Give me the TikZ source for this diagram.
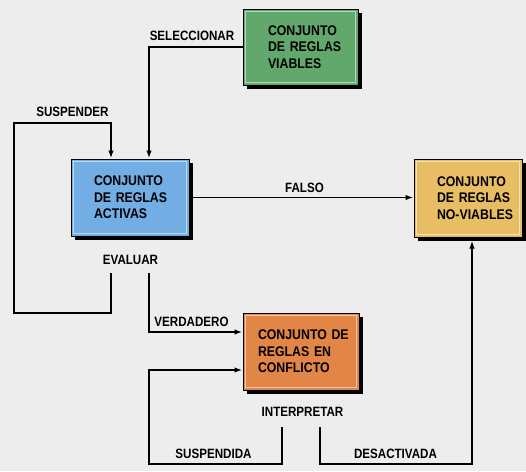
\documentclass[tikz,border=0pt]{standalone}
\usepackage{fontspec}
\setmainfont{Liberation Sans}
\newfontfamily\boxfont{Liberation Sans}[FakeStretch=0.88]
\newfontfamily\labelfont{Liberation Sans}[FakeStretch=0.86]
\usetikzlibrary{shadows,arrows.meta}
\definecolor{paper}{HTML}{EDEDED}
\definecolor{viable}{HTML}{62A86C}
\definecolor{activa}{HTML}{72ADE4}
\definecolor{noviable}{HTML}{E8BE64}
\definecolor{conflicto}{HTML}{E28648}
\tikzset{
  rulebox/.style={draw=black, line width=1pt, fill=#1, align=left, inner ysep=0pt,
    font=\boxfont\bfseries\fontsize{14}{16.5}\selectfont,
    general shadow={fill=black, shadow xshift=3.5pt, shadow yshift=-3.5pt},
    path picture={\draw[#1!45!white, line width=1pt]
      ([shift={(2.5pt,-2.5pt)}]path picture bounding box.north west) rectangle
      ([shift={(-2.5pt,2.5pt)}]path picture bounding box.south east);}},
  lbl/.style={font=\labelfont\bfseries\fontsize{13.5}{14}\selectfont, inner sep=0pt},
  flow/.style={line width=1.6pt, -{Latex[length=8pt,width=5.5pt]}}
}
\begin{document}
\begin{tikzpicture}[x=1pt,y=-1pt]
\useasboundingbox (0,0) rectangle (526,471);
\fill[paper] (0,0) rectangle (526,471);

% rule sets
\node[rulebox=viable, minimum width=115pt, minimum height=76pt, text width=65pt, inner xsep=25pt]
  (viables) at (300.5,47) {\mbox{CONJUNTO}\\\mbox{DE REGLAS}\\\mbox{VIABLES}};
\node[rulebox=activa, minimum width=118pt, minimum height=77pt, text width=72pt, inner xsep=23pt]
  (activas) at (130,197.5) {\mbox{CONJUNTO}\\\mbox{DE REGLAS}\\\mbox{ACTIVAS}};
\node[rulebox=noviable, minimum width=108pt, minimum height=78pt, text width=62pt, inner xsep=23pt]
  (noviables) at (468,198) {\mbox{CONJUNTO}\\\mbox{DE REGLAS}\\\mbox{NO-VIABLES}};
\node[rulebox=conflicto, minimum width=116pt, minimum height=77pt, text width=86pt, inner xsep=15pt]
  (conflicto) at (301,351.5) {\mbox{CONJUNTO DE}\\\mbox{REGLAS EN}\\\mbox{CONFLICTO}};

% labels
\node[lbl] (lsel) at (192,36) {SELECCIONAR};
\node[lbl] (lsus) at (72.5,111.5) {SUSPENDER};
\node[lbl] (lfal) at (304.5,188) {FALSO};
\node[lbl] (leva) at (130.5,260) {EVALUAR};
\node[lbl] (lver) at (191.5,321.5) {VERDADERO};
\node[lbl] (lint) at (302.5,412) {INTERPRETAR};
\node[lbl] (lsdd) at (213.5,453.5) {SUSPENDIDA};
\node[lbl] (ldes) at (395.5,453.5) {DESACTIVADA};

% free ends below the evaluation and interpretation labels
\coordinate (evA) at (111,273);
\coordinate (evB) at (149,273);
\coordinate (inA) at (282,427);
\coordinate (inB) at (320,427);

% connectors
\draw[flow] (viables.west) -| ([xshift=19pt]activas.north);
\draw[flow] (evA) |- (14,313) |- (111,123) -- ([xshift=-19pt]activas.north);
\draw[flow] (activas.east) -- (activas.east -| noviables.west);
\draw[flow] (evB) |- ([yshift=19.5pt]conflicto.west);
\draw[flow] (inA) |- (149,464) |- ([yshift=-18.5pt]conflicto.west);
\draw[flow] (inB) |- (472,464) -- ([xshift=4pt,yshift=-3pt]noviables.south);
\end{tikzpicture}
\end{document}
